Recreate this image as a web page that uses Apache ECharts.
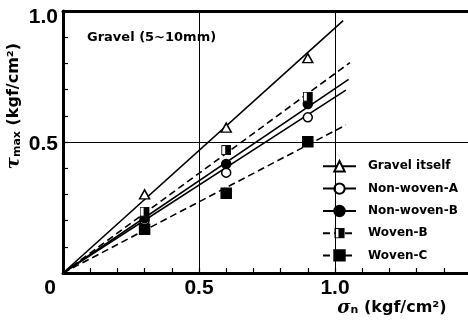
<!DOCTYPE html>
<html><head><meta charset="utf-8">
<script src="https://cdn.jsdelivr.net/npm/echarts@6/dist/echarts.min.js"></script>
<style>html,body{margin:0;padding:0;background:#fff}#c{width:468px;height:320px}</style>
</head><body><div id="c"></div>
<script>
// ---- data ----
const seriesNames = ['Gravel itself', 'Non-woven-A', 'Non-woven-B', 'Woven-B', 'Woven-C'];
const normalStress = [0.3, 0.6, 0.9];              // sigma_n (kgf/cm2)
const gravelItself = [0.30, 0.555, 0.82];          // tau_max
const nonWovenA   = [0.20, 0.383, 0.594];
const nonWovenB   = [0.21, 0.416, 0.645];
const wovenB      = [0.234, 0.469, 0.673];
const wovenC      = [0.167, 0.304, 0.501];
// fitted straight lines through origin: end points
const fitEndX = [1.03, 1.04, 1.05, 1.055, 1.04];
const fitEndY = [0.963, 0.698, 0.739, 0.803, 0.565];
const xTickLabels = ['0', '0.5', '1.0'];
const yTickLabels = ['0.5', '1.0'];
const refLinesX = [0.5, 1.0];
const refLinesY = [0.5];

// ---- styling ----
const halfSquare = 'image://data:image/svg+xml;utf8,' + encodeURIComponent(
  '<svg xmlns="http://www.w3.org/2000/svg" width="20" height="20" viewBox="0 0 20 20">' +
  '<rect x="1" y="1" width="18" height="18" fill="#fff" stroke="#000" stroke-width="2"/>' +
  '<rect x="8" y="1" width="11" height="18" fill="#000"/></svg>');
const pointSets = [gravelItself, nonWovenA, nonWovenB, wovenB, wovenC];
const symbols = ['triangle', 'circle', 'circle', halfSquare, 'rect'];
const symbolSizes = [[10, 9], 9, 9, 10, 10];
const fills = ['#fff', '#fff', '#000', '#000', '#000'];
const dashed = [false, false, false, true, true];

const lineSeries = seriesNames.map((n, i) => ({
  name: n, type: 'line', symbol: symbols[i], showSymbol: false, symbolSize: 12,
  data: [[0, 0], [fitEndX[i], fitEndY[i]]],
  itemStyle: { color: fills[i], borderColor: '#000', borderWidth: 1.5 },
  lineStyle: { color: '#000', width: 1.6, type: dashed[i] ? [7, 4] : 'solid' },
  silent: true, z: 2,
  markLine: i === 0 ? {
    silent: true, symbol: ['none', 'none'], label: { show: false },
    lineStyle: { color: '#000', width: 1, type: 'solid' },
    data: refLinesX.map(v => ({ xAxis: v })).concat(refLinesY.map(v => ({ yAxis: v })))
  } : undefined
}));
const pointSeries = seriesNames.map((n, i) => ({
  name: n, type: 'scatter', symbol: symbols[i], symbolSize: symbolSizes[i],
  data: normalStress.map((x, k) => [x, pointSets[i][k]]),
  itemStyle: { color: fills[i], borderColor: '#000', borderWidth: 1.5, opacity: 1 },
  z: 3
}));

function xLabel(v) {
  const s = (Math.round(v * 10) / 10).toFixed(1);
  if (Math.abs(v) < 1e-9) return '{o|' + xTickLabels[0] + '}';
  if (s === '0.5') return xTickLabels[1];
  if (s === '1.0') return xTickLabels[2];
  return '';
}
function yLabel(v) {
  const s = (Math.round(v * 10) / 10).toFixed(1);
  if (s === '0.5') return '{m|' + yTickLabels[0] + '}';
  if (s === '1.0') return '{t|' + yTickLabels[1] + '}';
  return '';
}
const tickFont = { fontFamily: 'Liberation Sans', fontWeight: 'bold', fontSize: 21, color: '#000' };

const chart = echarts.init(document.getElementById('c'));
chart.setOption({
  animation: false,
  backgroundColor: '#fff',
  title: {
    text: 'Gravel (5~10mm)', left: 87, top: 31, padding: 0,
    textStyle: { fontFamily: 'DejaVu Sans', fontWeight: 'bold', fontSize: 13, color: '#000' }
  },
  legend: {
    orient: 'vertical', left: 312, top: 156, padding: [4, 10, 2, 10],
    backgroundColor: '#fff', itemWidth: 33, itemHeight: 13, itemGap: 10,
    data: seriesNames,
    textStyle: { fontFamily: 'DejaVu Sans', fontWeight: 'bold', fontSize: 12, color: '#000', padding: [0, 0, 0, 7] }
  },
  grid: { left: 63, top: 11, width: 408, height: 262, outerBoundsMode: 'none', containLabel: false },
  xAxis: [{
    type: 'value', min: 0, max: 1.5, interval: 0.1,
    axisLine: { show: true, lineStyle: { color: '#000', width: 3 } },
    axisTick: { show: true, inside: true, length: 5, lineStyle: { color: '#000', width: 1.2 } },
    splitLine: { show: false },
    axisLabel: Object.assign({ margin: 5, formatter: xLabel, showMaxLabel: true,
      rich: { o: Object.assign({}, tickFont, { padding: [0, 26, 0, 0] }) } }, tickFont),
    name: '{s|σ}{n|n} (kgf/cm²)', nameLocation: 'middle', nameGap: 26, nameMoveOverlap: false,
    nameTextStyle: {
      fontFamily: 'DejaVu Sans', fontWeight: 'bold', fontSize: 16, color: '#000',
      padding: [0, 0, 0, 250],
      rich: {
        s: { fontFamily: 'DejaVu Serif', fontStyle: 'italic', fontSize: 18, color: '#000' },
        n: { fontFamily: 'DejaVu Sans', fontWeight: 'bold', fontSize: 11, color: '#000', padding: [5, 0, 0, 0] }
      }
    }
  }, {
    type: 'value', min: 0, max: 1.5, position: 'top',
    axisLine: { show: true, lineStyle: { color: '#000', width: 3 } },
    axisTick: { show: false }, axisLabel: { show: false }, splitLine: { show: false }
  }],
  yAxis: {
    type: 'value', min: 0, max: 1, interval: 0.1,
    axisLine: { show: true, lineStyle: { color: '#000', width: 3 } },
    axisTick: { show: true, inside: true, length: 5, lineStyle: { color: '#000', width: 1.2 } },
    splitLine: { show: false },
    axisLabel: Object.assign({ margin: 5, formatter: yLabel,
      rich: {
        t: Object.assign({}, tickFont, { padding: [12, 0, 0, 0] }),
        m: Object.assign({}, tickFont, { padding: [5, 0, 0, 0] })
      } }, tickFont),
    name: '{t|τ}{m|max} (kgf/cm²)', nameLocation: 'middle', nameGap: 40, nameRotate: 90, nameMoveOverlap: false,
    nameTextStyle: {
      fontFamily: 'DejaVu Sans', fontWeight: 'bold', fontSize: 16, color: '#000',
      padding: [0, 0, 0, 72],
      rich: {
        t: { fontFamily: 'DejaVu Serif', fontStyle: 'italic', fontSize: 18, color: '#000' },
        m: { fontFamily: 'DejaVu Sans', fontWeight: 'bold', fontSize: 11, color: '#000', padding: [6, 0, 0, 0] }
      }
    }
  },
  series: lineSeries.concat(pointSeries)
});
</script>
</body></html>
